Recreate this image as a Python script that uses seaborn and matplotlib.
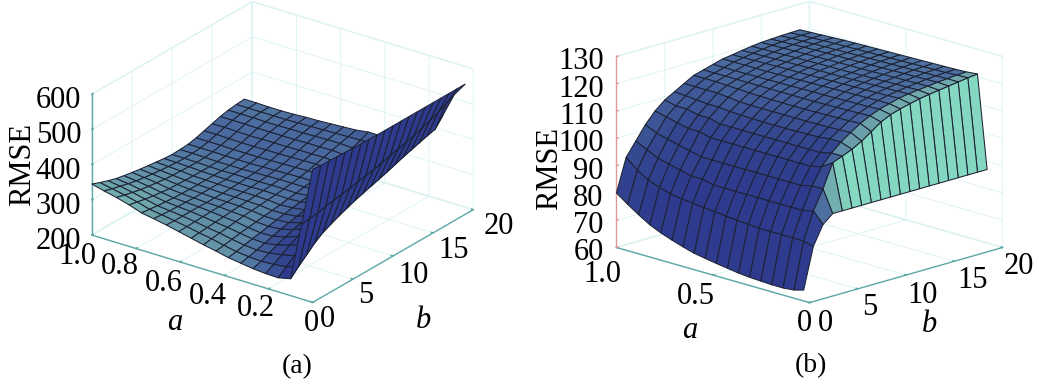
import numpy as np
import matplotlib
matplotlib.use('Agg')
import matplotlib.pyplot as plt
from matplotlib.transforms import ScaledTranslation
import seaborn as sns

sns.set_theme(style='white')
plt.rcParams['font.family'] = ['Liberation Serif', 'DejaVu Serif']

# values, rows are a, columns are b
a_left = [0.00, 0.05, 0.10, 0.156, 0.213, 0.27, 0.326, 0.382, 0.438, 0.494,
          0.55, 0.606, 0.662, 0.72, 0.775, 0.831, 0.888, 0.944, 1.00]
b_left = list(range(20))
rmse_left = [
    [578, 576, 575, 574, 573, 572, 571, 571, 570, 570, 570, 570, 570, 570, 570, 570, 570, 570, 570, 570],
    [412, 416, 418, 424, 428, 432, 436, 441, 446, 450, 456, 462, 468, 474, 481, 489, 497, 506, 518, 530],
    [248, 270, 290, 310, 326, 337, 347, 356, 365, 372, 379, 386, 393, 401, 409, 416, 423, 430, 436, 463],
    [240, 258, 276, 294, 308, 318, 328, 336, 344, 351, 358, 364, 370, 376, 382, 388, 394, 399, 404, 409],
    [241, 254, 268, 282, 294, 303, 311, 318, 325, 331, 337, 342, 347, 352, 357, 361, 366, 370, 374, 378],
    [244, 252, 262, 272, 281, 289, 296, 302, 308, 313, 318, 323, 327, 331, 335, 339, 343, 347, 350, 358],
    [249, 254, 260, 266, 273, 280, 285, 290, 295, 300, 304, 308, 312, 316, 321, 326, 331, 337, 344, 352],
    [254, 258, 263, 268, 272, 277, 282, 286, 290, 294, 298, 302, 306, 310, 315, 320, 326, 332, 341, 350],
    [262, 265, 269, 273, 276, 279, 282, 285, 288, 292, 295, 299, 303, 307, 312, 318, 324, 331, 340, 350],
    [269, 273, 276, 279, 282, 285, 287, 289, 291, 293, 296, 299, 303, 308, 314, 320, 327, 333, 339, 345],
    [277, 279, 281, 283, 285, 287, 289, 290, 292, 294, 296, 299, 302, 307, 313, 319, 326, 333, 338, 343],
    [285, 286, 287, 288, 289, 290, 290, 291, 292, 293, 295, 298, 301, 306, 312, 319, 326, 332, 337, 341],
    [293, 292, 292, 292, 292, 291, 291, 291, 292, 293, 295, 297, 300, 305, 311, 318, 325, 331, 336, 339],
    [300, 298, 296, 295, 294, 293, 293, 293, 293, 293, 295, 296, 299, 304, 311, 318, 325, 331, 335, 338],
    [306, 303, 300, 298, 296, 295, 294, 294, 294, 294, 294, 296, 299, 304, 310, 318, 325, 330, 334, 336],
    [318, 313, 308, 304, 301, 298, 297, 296, 295, 295, 295, 296, 299, 304, 310, 317, 325, 330, 334, 335],
    [328, 322, 316, 311, 307, 304, 301, 299, 298, 297, 296, 297, 300, 305, 311, 318, 326, 331, 334, 335],
    [336, 329, 323, 317, 312, 308, 305, 302, 300, 298, 297, 298, 300, 305, 312, 319, 326, 331, 334, 336],
    [345, 336, 328, 321, 316, 312, 308, 305, 302, 299, 297, 298, 300, 305, 312, 319, 326, 331, 334, 336],
]

a_right = [0.03, 0.08, 0.137, 0.195, 0.252, 0.31, 0.367, 0.425, 0.482,
           0.54, 0.597, 0.655, 0.712, 0.77, 0.827, 0.885, 0.942, 1.00]
b_right = list(range(20))
rmse_right = [
    [64.0, 79, 86, 89, 89, 89, 89, 89, 89, 89, 89, 89, 89, 89, 89, 89, 89, 89, 89, 89],
    [63.0, 80, 90, 97, 105.6, 107, 108.5, 110.5, 113, 115.5, 117.2, 118.3, 119.2, 120, 120.6, 121.1, 121.6, 122.1, 122.6, 123],
    [62.6, 80, 89, 97, 103, 107, 110, 112.5, 114.8, 116.6, 118, 119, 120, 120.6, 121, 121.4, 121.8, 122.1, 122.4, 122.6],
    [62.6, 80, 89, 96, 102, 106, 110, 112.3, 114.6, 116.4, 117.8, 119, 119.8, 120.4, 120.9, 121.3, 121.7, 122, 122.2, 122.4],
    [62.8, 80, 89, 96, 102, 106, 109.5, 112.2, 114.5, 116.3, 117.7, 118.9, 119.7, 120.3, 120.8, 121.2, 121.6, 121.9, 122.1, 122.3],
    [63.0, 80, 89, 96, 102, 106, 109.4, 112.1, 114.4, 116.2, 117.6, 118.8, 119.6, 120.2, 120.7, 121.1, 121.5, 121.8, 122, 122.2],
    [63.4, 80.3, 89, 96, 102, 106, 109.3, 112, 114.3, 116.1, 117.5, 118.7, 119.5, 120.1, 120.6, 121, 121.4, 121.7, 121.9, 122.1],
    [64.0, 80.6, 89, 96, 102, 106, 109.2, 112, 114.2, 116, 117.4, 118.6, 119.4, 120, 120.5, 120.9, 121.3, 121.6, 121.8, 122],
    [64.6, 81, 89, 96, 102, 106, 109.2, 112, 114.2, 116, 117.4, 118.5, 119.3, 119.9, 120.4, 120.8, 121.2, 121.5, 121.7, 121.9],
    [65.3, 81.4, 89, 96, 102, 106, 109.2, 112, 114.2, 116, 117.3, 118.4, 119.2, 119.8, 120.3, 120.8, 121.1, 121.4, 121.6, 121.8],
    [66.0, 81.8, 89, 96, 102, 106, 109.3, 112, 114.2, 116, 117.2, 118.3, 119.1, 119.8, 120.3, 120.7, 121, 121.3, 121.5, 121.7],
    [67.2, 82.2, 90, 96, 102, 106, 109.4, 112, 114.3, 116, 117.2, 118.2, 119, 119.7, 120.2, 120.6, 121, 121.2, 121.4, 121.6],
    [68.5, 82.6, 90, 96, 102, 106, 109.6, 112.1, 114.4, 116, 117.1, 118.1, 119, 119.6, 120.1, 120.5, 120.9, 121.1, 121.3, 121.5],
    [70.0, 83.2, 91, 97, 103, 107, 110, 112.6, 114.6, 116, 117.1, 118, 118.9, 119.5, 120, 120.4, 120.8, 121, 121.2, 121.4],
    [71.8, 84.5, 92, 98, 103, 107, 110, 113, 114.8, 116, 117, 118, 118.8, 119.4, 119.9, 120.3, 120.7, 120.9, 121.1, 121.2],
    [74.3, 86, 93, 99, 104, 108, 110.3, 113, 115, 116, 117, 118, 118.7, 119.3, 119.8, 120.2, 120.5, 120.7, 120.9, 121],
    [77.0, 88.5, 95, 100, 105, 108, 110.7, 113, 115, 116, 117, 118, 118.6, 119.2, 119.7, 120.1, 120.4, 120.6, 120.7, 120.8],
    [80.0, 92, 97, 102, 106, 109, 111, 113, 115, 116, 117, 118, 118.5, 119.1, 119.6, 120, 120.2, 120.4, 120.5, 120.6],
]

a_ticks_left = [1.0, 0.8, 0.6, 0.4, 0.2, 0]
a_labels_left = ['1.0', '0.8', '0.6', '0.4', '0.2', '0']
a_ticks_right = [1.0, 0.5, 0]
a_labels_right = ['1.0', '0.5', '0']
b_ticks = [0, 5, 10, 15, 20]
z_ticks_left = [200, 300, 400, 500, 600]
z_ticks_right = [60, 70, 80, 90, 100, 110, 120, 130]

W, H = 1039, 385
fig = plt.figure(figsize=(W / 100, H / 100), dpi=100)
fig.patch.set_facecolor('white')

surface_cmap = sns.blend_palette(['#2e3a8e', '#33458f', '#4a6a9f', '#6ea5ab', '#85dac2'], as_cmap=True)
light = np.array([-0.8, 0.3, 0.5])
light = light / np.linalg.norm(light)


def shade_cells(a, b, z, zlim, zscale):
    # cell colours from the slope of the surface in box units
    zb = (z - zlim[0]) / (zlim[1] - zlim[0]) * zscale
    dza = np.gradient(zb, a, axis=0)
    dzb = np.gradient(zb, b / 20.0, axis=1)
    norm = np.sqrt(dza ** 2 + dzb ** 2 + 1)
    v = (-dza * light[0] - dzb * light[1] + light[2]) / norm
    v = 0.25 * (v[:-1, :-1] + v[1:, :-1] + v[:-1, 1:] + v[1:, 1:])
    return surface_cmap(np.clip(v / 0.9, 0, 1))


def nudge(ax, axis, shifts):
    # Axis3D resets the tick transforms each time it fetches them, so offset the labels there
    fetch = axis.get_major_ticks

    def shifted(numticks=None):
        ticks = fetch(numticks)
        for t, (dx, dy) in zip(ticks, shifts):
            t.label1.set_transform(ax.transData + ScaledTranslation(dx / 100, dy / 100, fig.dpi_scale_trans))
        return ticks
    axis.get_major_ticks = shifted


def draw_panel(center, elev, azim, zscale, zoom, a, b, rmse, a_ticks, a_labels, z_ticks, z_color,
               a_shift, b_shift, z_shift):
    size = 500
    left = center[0] - 0.5135 * size
    bottom = H - center[1] - 0.5135 * size
    ax = fig.add_axes([left / W, bottom / H, size / W, size / H], projection='3d', proj_type='ortho')
    ax.patch.set_alpha(0)
    ax.view_init(elev=elev, azim=azim)
    ax.set_box_aspect((1, 1, zscale), zoom=zoom)

    a = np.array(a)
    b = np.array(b, dtype=float)
    z = np.array(rmse, dtype=float)
    zlim = (z_ticks[0], z_ticks[-1])
    B, A = np.meshgrid(b, a)
    ax.plot_surface(A, B, z, rstride=1, cstride=1, facecolors=shade_cells(a, b, z, zlim, zscale),
                    shade=False, edgecolor='#1c2233', linewidth=0.75, antialiased=True)

    ax.set_xlim(1, 0)
    ax.set_ylim(0, 20)
    ax.set_zlim(*zlim)
    ax.set_xticks(a_ticks)
    ax.set_xticklabels(a_labels)
    ax.set_yticks(b_ticks)
    ax.set_yticklabels([str(t) for t in b_ticks])
    ax.set_zticks(z_ticks)
    ax.set_zticklabels([str(t) for t in z_ticks])
    ax.zaxis.set_ticks_position('lower')
    ax.tick_params(labelsize=22, labelcolor='black', pad=0)
    ax.tick_params(axis='z', pad=6)

    for axis, color in zip((ax.xaxis, ax.yaxis, ax.zaxis), ('#5fa8a8', '#5fa8a8', z_color)):
        axis.set_pane_color((1, 1, 1, 1))
        axis.pane.set_edgecolor('#dcf3f3')
        axis.line.set_color(color)
        axis.line.set_linewidth(1.0)
        axis._axinfo['grid']['color'] = '#dcf3f3'
        axis._axinfo['grid']['linewidth'] = 0.6
        axis._axinfo['tick']['color'] = color
        axis._axinfo['tick']['inward_factor'] = 0.0
        axis._axinfo['tick']['outward_factor'] = 0.1
    ax.tick_params(axis='x', color='#5fa8a8')
    ax.tick_params(axis='y', color='#5fa8a8')
    ax.tick_params(axis='z', color=z_color)
    ax.grid(True)

    for t in ax.get_zticklabels():
        t.set_ha('right')
    nudge(ax, ax.xaxis, a_shift)
    nudge(ax, ax.yaxis, b_shift)
    nudge(ax, ax.zaxis, z_shift)
    return ax


draw_panel((282.5, 152), 24.8, -54, 0.568, 0.808, a_left, b_left, rmse_left,
           a_ticks_left, a_labels_left, z_ticks_left, '#5fa8a8',
           [(-8, 3), (-9, 6), (-10, 3), (-10, 3), (-6, 5), (6, 3)],
           [(5, 6), (3, 7), (11, 4), (11, 6), (16, 7)],
           [(18, 10)] * 5)
draw_panel((809.5, 152), 16.6, -45, 0.73, 0.8436, a_right, b_right, rmse_right,
           a_ticks_right, a_labels_right, z_ticks_right, '#e09a9a',
           [(-6, -2), (-9, 4), (3, 4)],
           [(8, 4), (4, 6), (8, 5), (10, 6), (8, 6)],
           [(16, 9)] * 8)


def label(x, y, text, size=22, **kw):
    fig.text(x / W, 1 - y / H, text, ha='center', va='center', fontsize=size, color='black', **kw)


label(23, 165, 'RMSE', rotation=90)
label(175, 322, 'a', style='italic')
label(423, 320, 'b', style='italic')
label(297, 367, '(a)', size=20)
label(550, 169, 'RMSE', rotation=90)
label(690, 331, 'a', style='italic')
label(929, 325, 'b', style='italic')
label(811, 366, '(b)', size=20)

fig.savefig('out.png', dpi=100)
